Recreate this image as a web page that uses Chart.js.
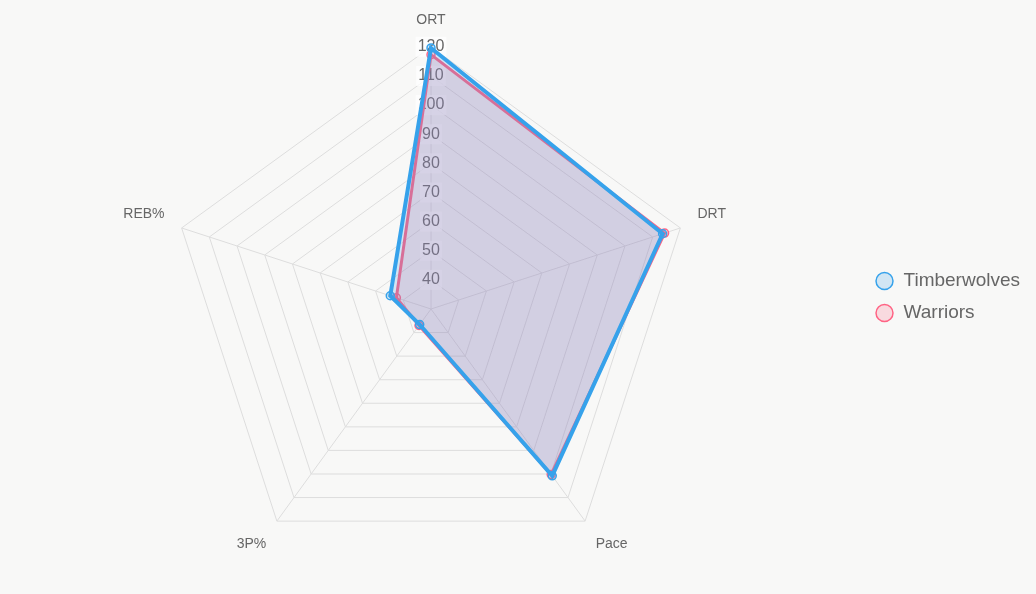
<!DOCTYPE html>
<html>
<head>
<meta charset="utf-8">
<script src="https://cdn.jsdelivr.net/npm/chart.js@4.4.0/dist/chart.umd.min.js"></script>
<style>
  html, body { margin: 0; padding: 0; background: #f8f8f7; }
  #wrap { width: 1036px; height: 594px; position: relative; }
</style>
</head>
<body>
<div id="wrap"><canvas id="c"></canvas></div>
<script>
const categories = ['ORT', 'DRT', 'Pace', '3P%', 'REB%'];
const timberwolves = [119.6, 113.6, 100.8, 36.6, 44.7];
const warriors = [117.3, 114.3, 100.2, 37.0, 42.5];
const seriesNames = ['Timberwolves', 'Warriors'];

Chart.defaults.font.family = "'Helvetica Neue', Helvetica, Arial, 'Liberation Sans', sans-serif";
Chart.defaults.color = '#666';

new Chart(document.getElementById('c'), {
  type: 'radar',
  data: {
    labels: categories,
    datasets: [
      {
        label: seriesNames[0],
        data: timberwolves,
        borderColor: 'rgb(54,162,235)',
        backgroundColor: 'rgba(54,162,235,0.2)',
        pointBackgroundColor: 'rgba(54,162,235,0.2)',
        pointBorderColor: 'rgb(54,162,235)',
        borderWidth: 4,
        pointRadius: 4,
        pointBorderWidth: 1.5
      },
      {
        label: seriesNames[1],
        data: warriors,
        borderColor: 'rgb(255,99,132)',
        backgroundColor: 'rgba(255,99,132,0.2)',
        pointBackgroundColor: 'rgba(255,99,132,0.2)',
        pointBorderColor: 'rgb(255,99,132)',
        borderWidth: 3,
        pointRadius: 4,
        pointBorderWidth: 1.5
      }
    ]
  },
  options: {
    responsive: true,
    maintainAspectRatio: false,
    animation: false,
    layout: { padding: { right: 6 } },
    plugins: {
      legend: {
        position: 'right',
        labels: {
          usePointStyle: true, pointStyle: 'circle',
          boxWidth: 19, boxHeight: 12, padding: 13,
          font: { size: 19 }, color: '#666'
        }
      },
      tooltip: { enabled: false }
    },
    scales: {
      r: {
        min: 30,
        max: 120,
        ticks: { stepSize: 10, font: { size: 16 }, color: '#666' },
        pointLabels: { font: { size: 14 }, color: '#666', padding: 8 },
        grid: { color: '#ddd' },
        angleLines: { color: '#ddd' }
      }
    }
  }
});
</script>
</body>
</html>
